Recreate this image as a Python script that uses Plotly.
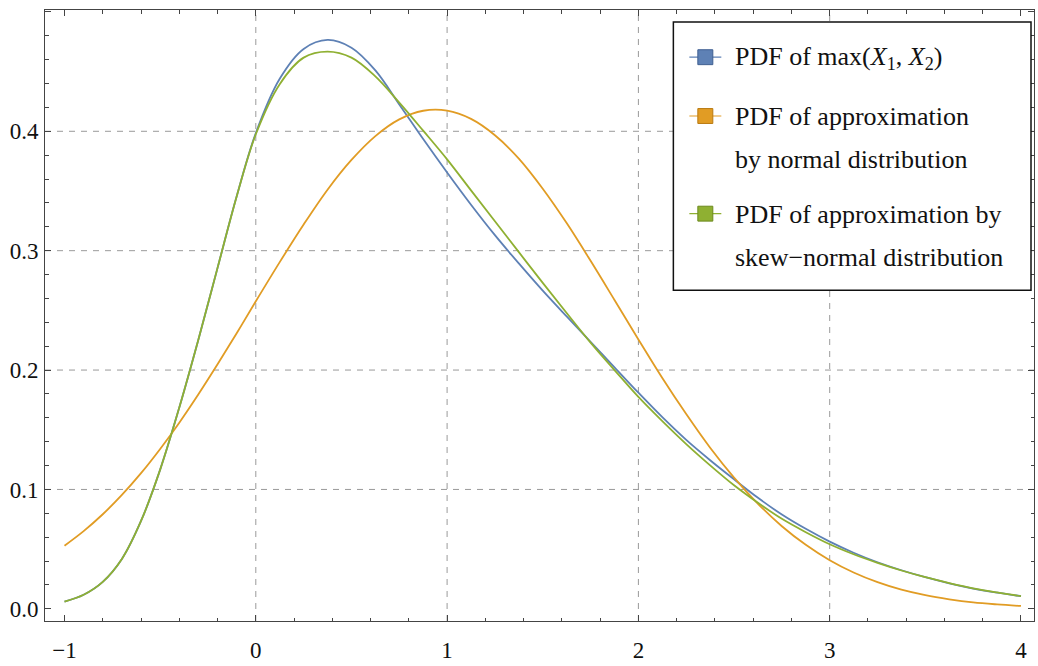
import plotly.graph_objects as go

# Sample points of the three density curves
x_vals = [-1.0, -0.9, -0.8, -0.7, -0.6, -0.5, -0.4, -0.3, -0.2, -0.1, 0.0, 0.125, 0.25,
          0.375, 0.5, 0.625, 0.75, 0.875, 1.0, 1.125, 1.25, 1.375, 1.5, 1.625, 1.75,
          1.875, 2.0, 2.125, 2.25, 2.375, 2.5, 2.625, 2.75, 2.875, 3.0, 3.125, 3.25,
          3.375, 3.5, 3.625, 3.75, 3.875, 4.0]
pdf_max = [0.0060, 0.0118, 0.0226, 0.0418, 0.0736, 0.1166, 0.1686, 0.2256, 0.2856, 0.3456,
           0.3985, 0.4440, 0.4690, 0.4765, 0.4700, 0.4510, 0.4225, 0.3935, 0.3655, 0.3385,
           0.3130, 0.2893, 0.2665, 0.2449, 0.2237, 0.2023, 0.1810, 0.1605, 0.1415, 0.1245,
           0.1085, 0.0930, 0.0790, 0.0670, 0.0563, 0.0470, 0.0390, 0.0323, 0.0265, 0.0214,
           0.0170, 0.0135, 0.0106]
pdf_norm = [0.0529, 0.0651, 0.0792, 0.0954, 0.1136, 0.1339, 0.1559, 0.1797, 0.2048, 0.2308,
            0.2576, 0.2904, 0.3219, 0.3511, 0.3760, 0.3960, 0.4100, 0.4172, 0.4173, 0.4104,
            0.3967, 0.3771, 0.3519, 0.3231, 0.2915, 0.2587, 0.2256, 0.1933, 0.1631, 0.1349,
            0.1099, 0.0880, 0.0692, 0.0536, 0.0407, 0.0304, 0.0223, 0.0160, 0.0114, 0.0080,
            0.0054, 0.0037, 0.0024]
pdf_skew = [0.0060, 0.0118, 0.0226, 0.0418, 0.0736, 0.1166, 0.1686, 0.2256, 0.2856, 0.3454,
            0.3975, 0.4395, 0.4617, 0.4667, 0.4617, 0.4460, 0.4240, 0.4005, 0.3765, 0.3505,
            0.3246, 0.2988, 0.2730, 0.2478, 0.2230, 0.2000, 0.1775, 0.1572, 0.1380, 0.1202,
            0.1035, 0.0888, 0.0754, 0.0642, 0.0541, 0.0457, 0.0385, 0.0321, 0.0265, 0.0216,
            0.0172, 0.0137, 0.0106]

x_ticks = [-1, 0, 1, 2, 3, 4]
y_ticks = [0.0, 0.1, 0.2, 0.3, 0.4, 0.5]
grid_x = [0, 1, 2, 3]
grid_y = [0.1, 0.2, 0.3, 0.4]

legend_labels = [
    ["PDF of max(<i>X</i><sub>1</sub>, <i>X</i><sub>2</sub>)"],
    ["PDF of approximation", "by normal distribution"],
    ["PDF of approximation by", "skew\u2212normal distribution"],
]

BLUE, ORANGE, GREEN = "#5E81B5", "#E19C24", "#8FB032"
EDGE = {BLUE: "#3F5F91", ORANGE: "#B97A10", GREEN: "#6C8A1E"}
FRAME = "#444444"
GRID = "#9a9a9a"
SERIF = "Liberation Serif"

W, H = 1038, 666
L, R, T, B = 45, 1035, 10, 625


def px(xp):
    return (xp - L) / (R - L)


def py(yp):
    return (B - yp) / (B - T)


fig = go.Figure()
for ys, col in [(pdf_max, BLUE), (pdf_norm, ORANGE), (pdf_skew, GREEN)]:
    fig.add_trace(go.Scatter(x=x_vals, y=ys, mode="lines", showlegend=False, hoverinfo="skip",
                             line=dict(color=col, width=1.8, shape="spline", smoothing=1.0)))

shapes = []
for gx in grid_x:
    shapes.append(dict(type="line", xref="x", yref="paper", x0=gx, x1=gx, y0=0, y1=1,
                       layer="below", line=dict(color=GRID, width=1, dash="6px,6px")))
for gy in grid_y:
    shapes.append(dict(type="line", xref="paper", yref="y", x0=0, x1=1, y0=gy, y1=gy,
                       layer="below", line=dict(color=GRID, width=1, dash="6px,6px")))

# legend box
shapes.append(dict(type="rect", xref="paper", yref="paper", x0=px(674), x1=px(1032),
                   y0=py(292), y1=py(22), fillcolor="white", layer="above",
                   line=dict(color="#111111", width=1.5)))

annotations = []
swatch_y = [57.5, 116.7, 215.0]
line_gap = 43
for col, yc, lines in zip([BLUE, ORANGE, GREEN], swatch_y, legend_labels):
    shapes.append(dict(type="line", xref="paper", yref="paper", x0=px(690), x1=px(722),
                       y0=py(yc), y1=py(yc), layer="above", line=dict(color=col, width=1.2)))
    shapes.append(dict(type="rect", xref="paper", yref="paper", x0=px(698.5), x1=px(713.5),
                       y0=py(yc + 7.5), y1=py(yc - 7.5), layer="above", fillcolor=col,
                       line=dict(color=EDGE[col], width=1)))
    for i, txt in enumerate(lines):
        annotations.append(dict(xref="paper", yref="paper", x=px(734), y=py(yc + 1 + i * line_gap),
                                xanchor="left", yanchor="middle", showarrow=False, text=txt,
                                font=dict(family=SERIF, size=26, color="#111111")))

axis_common = dict(ticks="inside", ticklen=6, tickwidth=1, tickcolor=FRAME, showline=True,
                   linecolor=FRAME, linewidth=1, mirror="ticks", showgrid=False, zeroline=False,
                   tickfont=dict(family=SERIF, size=23, color="#111111"))

fig.update_layout(
    width=W, height=H,
    margin=dict(l=L, r=W - R, t=T, b=H - B, pad=0),
    paper_bgcolor="white", plot_bgcolor="white",
    shapes=shapes, annotations=annotations,
    xaxis=dict(range=[-1.102, 4.068], tickmode="array", tickvals=x_ticks,
               ticktext=[f"{v:g}".replace("-", "\u2212") for v in x_ticks],
               minor=dict(tickmode="linear", tick0=0, dtick=0.2, ticks="inside", ticklen=3.5,
                          tickcolor=FRAME, tickwidth=1),
               ticklabelstandoff=8, **axis_common),
    yaxis=dict(range=[-0.0102, 0.5016], tickmode="array", tickvals=y_ticks,
               ticktext=[f"{v:.1f}" for v in y_ticks],
               minor=dict(tickmode="linear", tick0=0, dtick=0.02, ticks="inside", ticklen=3.5,
                          tickcolor=FRAME, tickwidth=1),
               ticklabelstandoff=1, **axis_common),
)

fig.write_html("out.html")
